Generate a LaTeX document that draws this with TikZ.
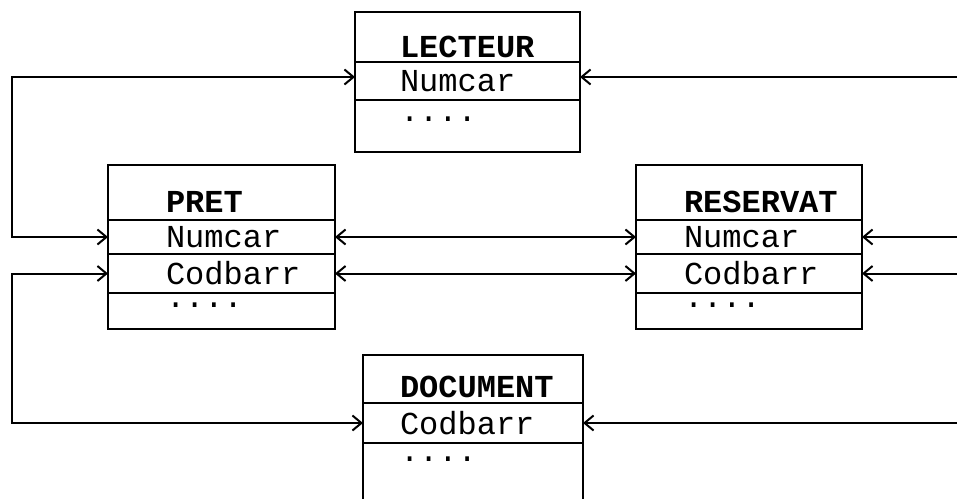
\documentclass[tikz,border=0pt]{standalone}
\usepackage{fontspec}
\setmonofont{Liberation Mono}
\usetikzlibrary{arrows.meta, positioning}
\tikzset{
    tcell/.style={draw, line width=2pt, inner sep=0pt, outer sep=0pt,
                  align=left, font=\ttfamily\fontsize{32}{36}\selectfont},
    tabl/.style 2 args={tcell, text width=#1,
                        execute at begin node={\hspace*{#2}}},
    headrow/.style 2 args={text height=#1, text depth=#2,
                           font=\ttfamily\bfseries\fontsize{32}{36}\selectfont},
    fieldrow/.style={minimum height=#1},
    dotrow/.style 2 args={text height=#1, text depth=#2},
    link/.style={line width=2pt,
                 {Straight Barb[length=9pt,width=15pt]}-{Straight Barb[length=9pt,width=15pt]}},
}

\begin{document}
\begin{tikzpicture}[x=1pt, y=-1pt]
    \useasboundingbox (0,0) rectangle (957,498);
    % LECTEUR
    \node[tabl={225pt}{45pt}, headrow={45pt}{5pt}, anchor=north west] (lect) at (355,12) {LECTEUR};
    \node[tabl={225pt}{45pt}, fieldrow=38pt, below=0pt of lect] (lect-num) {Numcar};
    \node[tabl={225pt}{45pt}, dotrow={21pt}{31pt}, below=0pt of lect-num] (lect-dot) {....};
    % PRET
    \node[tabl={227pt}{58pt}, headrow={47pt}{8pt}, anchor=north west] (pret) at (108,165) {PRET};
    \node[tabl={227pt}{58pt}, fieldrow=34pt, below=0pt of pret] (pret-num) {Numcar};
    \node[tabl={227pt}{58pt}, fieldrow=39pt, below=0pt of pret-num] (pret-cod) {Codbarr};
    \node[tabl={227pt}{58pt}, dotrow={14pt}{22pt}, below=0pt of pret-cod] (pret-dot) {....};
    % RESERVAT
    \node[tabl={226pt}{48pt}, headrow={47pt}{8pt}, anchor=north west] (resa) at (636,165) {RESERVAT};
    \node[tabl={226pt}{48pt}, fieldrow=34pt, below=0pt of resa] (resa-num) {Numcar};
    \node[tabl={226pt}{48pt}, fieldrow=39pt, below=0pt of resa-num] (resa-cod) {Codbarr};
    \node[tabl={226pt}{48pt}, dotrow={14pt}{22pt}, below=0pt of resa-cod] (resa-dot) {....};
    % DOCUMENT
    \node[tabl={220pt}{37pt}, headrow={42pt}{6pt}, anchor=north west] (doc) at (363,355) {DOCUMENT};
    \node[tabl={220pt}{37pt}, fieldrow=40pt, below=0pt of doc] (doc-cod) {Codbarr};
    \node[tabl={220pt}{37pt}, dotrow={18pt}{49pt}, below=0pt of doc-cod] (doc-dot) {....};

    \coordinate (lbus) at (12,0);
    \coordinate (rbus) at (975,0);
    \draw[link] (pret-num.west) -- (pret-num.west -| lbus) |- ([yshift=4pt]lect-num.west);
    \draw[link] (pret-cod.west) -- (pret-cod.west -| lbus) |- (doc-cod.west);
    \draw[link] (pret-num.east) -- (resa-num.west);
    \draw[link] (pret-cod.east) -- (resa-cod.west);
    \draw[link] (resa-num.east) -- (resa-num.east -| rbus) |- ([yshift=4pt]lect-num.east);
    \draw[link] (resa-cod.east) -- (resa-cod.east -| rbus) |- (doc-cod.east);
\end{tikzpicture}
\end{document}
